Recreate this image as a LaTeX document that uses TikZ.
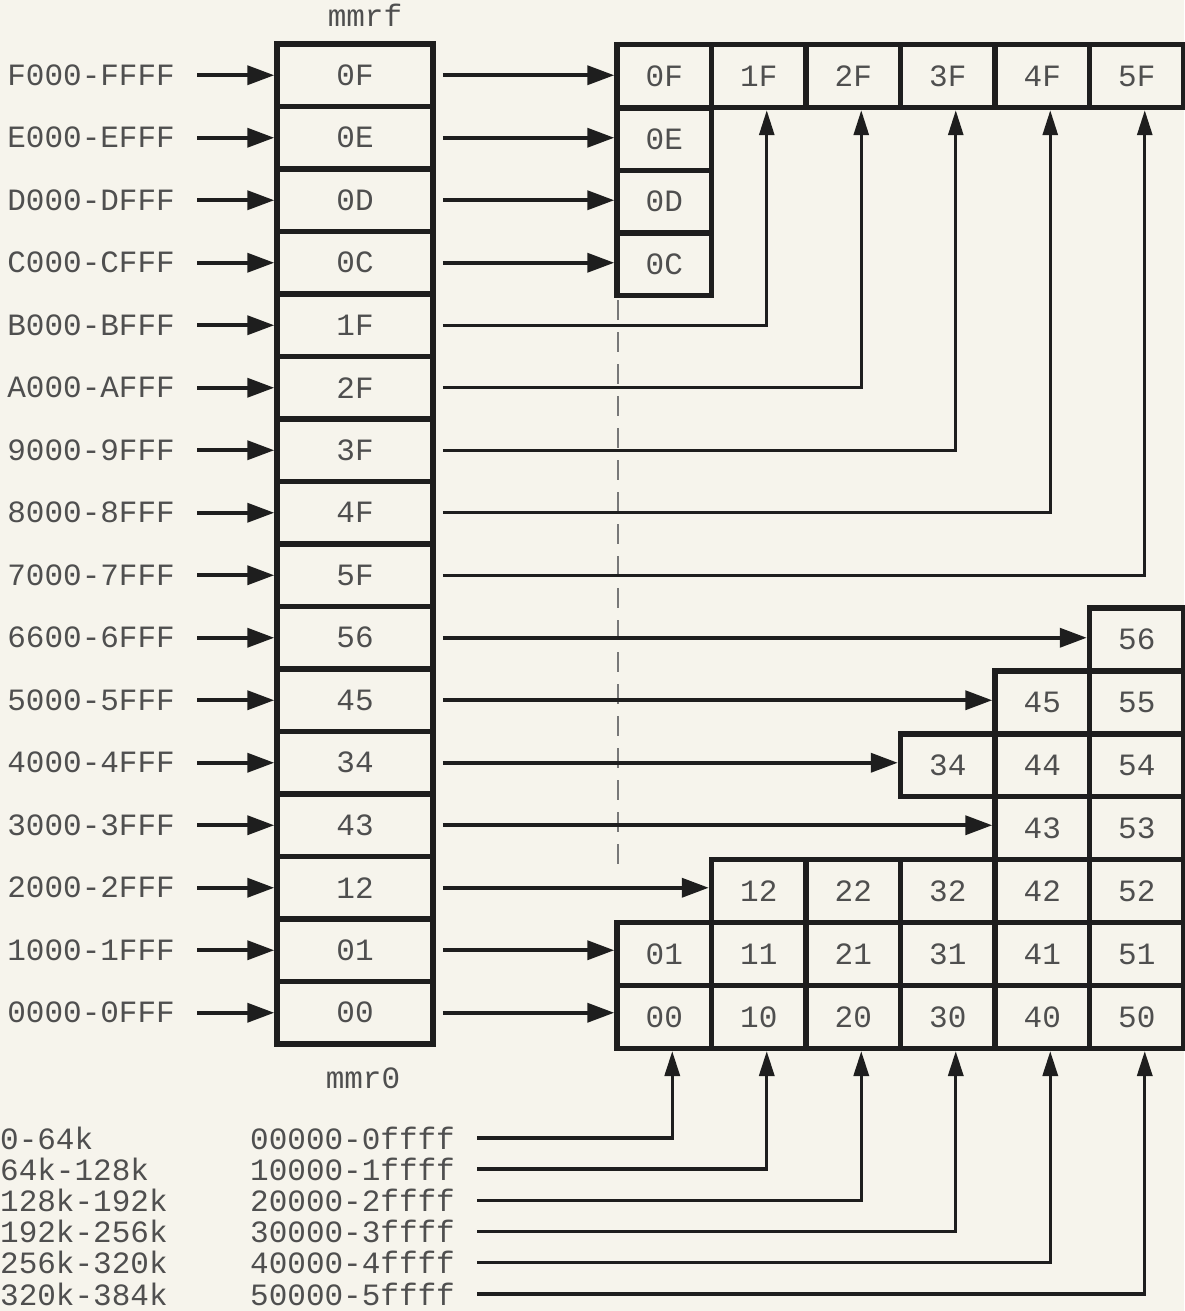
\documentclass[tikz,border=0pt]{standalone}
\usepackage{fontspec}
\setmainfont{Liberation Mono}
\usetikzlibrary{arrows.meta}
\definecolor{paper}{HTML}{F6F4EC}
\definecolor{ink}{HTML}{1E1E1E}
\definecolor{txt}{HTML}{4F4F4F}
\newcommand\mfs{\fontsize{31}{31}\selectfont}
\begin{document}
\begin{tikzpicture}[x=1pt,y=-1pt,
  cell/.style={draw=ink,line width=5.5pt,minimum height=62.5pt,inner sep=0pt,text=txt,font=\mfs},
  lbl/.style={inner sep=0pt,text=txt,font=\mfs},
  arr/.style={draw=ink,line width=3.8pt,-{Triangle[length=27pt,width=19pt]}},
  uparr/.style={draw=ink,line width=3pt,-{Triangle[length=25pt,width=15pt]}},
  dashline/.style={draw=ink!60,line width=1.5pt,dash pattern=on 20pt off 12pt}]
\fill[paper] (0,0) rectangle (1184,1311);
\useasboundingbox (0,0) rectangle (1184,1311);

% dashed guide
\draw[dashline] (618,300) -- (618,870);

% mmr column
\foreach \lab [count=\i from 0] in {0F,0E,0D,0C,1F,2F,3F,4F,5F,56,45,34,43,12,01,00}
  \node[cell,minimum width=156pt] (m\lab) at (355,{75.25+62.5*\i}) {\lab};
\node[lbl] (mmrf) at (365,15) {mmrf};
\node[lbl] (mmrz) at (363,1078) {mmr0};

% left address labels
\foreach \addr/\lab [count=\i from 0] in {F000-FFFF/0F,E000-EFFF/0E,D000-DFFF/0D,C000-CFFF/0C,B000-BFFF/1F,A000-AFFF/2F,9000-9FFF/3F,8000-8FFF/4F,7000-7FFF/5F,6600-6FFF/56,5000-5FFF/45,4000-4FFF/34,3000-3FFF/43,2000-2FFF/12,1000-1FFF/01,0000-0FFF/00}{
  \node[lbl,anchor=east] (L\lab) at (175,{75.25+62.5*\i}) {\addr};
  \draw[arr,shorten <=22pt] (L\lab.east) -- (m\lab.west);
}

% top-right block
\foreach \lab [count=\i from 0] in {0F,1F,2F,3F,4F,5F}
  \node[cell,minimum width=94.5pt,minimum height=63pt] (t\lab) at ({664.25+94.5*\i},76) {\lab};
\foreach \lab [count=\i from 0] in {0E,0D,0C}
  \node[cell,minimum width=94.5pt] (t\lab) at (664.25,{139.25+62.5*\i}) {\lab};

\foreach \lab in {0F,0E,0D,0C}
  \draw[arr,shorten <=7pt] (m\lab.east) -- (m\lab.east -| t\lab.west);
\foreach \lab in {1F,2F,3F,4F,5F}
  \draw[uparr,shorten <=7pt] (m\lab.east) -| ([xshift=8pt]t\lab.south);

% lower block
\foreach \r/\cs in {0/{5},1/{4,5},2/{3,4,5},3/{4,5},4/{1,2,3,4,5},5/{0,1,2,3,4,5},6/{0,1,2,3,4,5}}{
  \pgfmathtruncatemacro\d{6-\r}
  \foreach \c in \cs {
    \node[cell,minimum width=94.5pt,minimum height=62.9pt] (b\c\d) at ({664.25+94.5*\c},{639.45+62.9*\r}) {\c\d};
  }
}
\foreach \lab in {56,45,34,43,12,01,00}
  \draw[arr,shorten <=7pt] (m\lab.east) -- (m\lab.east -| b\lab.west);

% bottom physical ranges
\foreach \k/\a/\h [count=\i from 0] in {0/0-64k/00000-0ffff,1/64k-128k/10000-1ffff,2/128k-192k/20000-2ffff,3/192k-256k/30000-3ffff,4/256k-320k/40000-4ffff,5/320k-384k/50000-5ffff}{
  \node[lbl,anchor=base west] (K\k) at (0,{1149+31.2*\i}) {\a};
  \node[lbl,anchor=base west] (A\k) at (250,{1149+31.2*\i}) {\h};
  \draw[uparr,line width=3.4pt,shorten <=22pt] (A\k.east) -| ([xshift=8pt]b\k0.south);
}
\end{tikzpicture}
\end{document}
